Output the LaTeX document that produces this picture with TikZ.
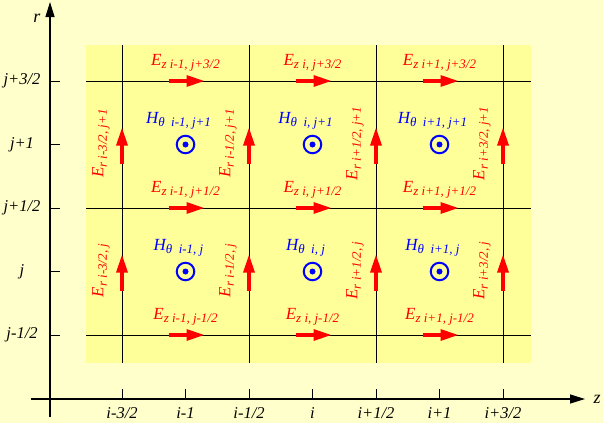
\documentclass[tikz,border=0pt]{standalone}
\usepackage{fontspec}
\setmainfont{Liberation Serif}
\usepackage{tikz}
\usetikzlibrary{arrows.meta,positioning}
\definecolor{bgyellow}{RGB}{255,255,204}
\definecolor{cellyellow}{RGB}{255,255,153}
\newcommand{\fld}[2]{{\fontsize{17}{17}\selectfont\itshape #1}\raisebox{-3.5pt}{\fontsize{13}{13}\selectfont\itshape #2}}
\newcommand{\idx}[1]{{\fontsize{16.5}{16.5}\selectfont\itshape #1}}
\tikzstyle{axisline} = [line width=1.3pt, -{Triangle[length=15pt,width=9pt]}]
\tikzstyle{gridline} = [line width=1pt]
\tikzstyle{efield} = [red, line width=3.2pt, -{Triangle[length=18pt,width=11pt]}]
\tikzstyle{hfield} = [circle, draw=blue, line width=2pt, inner sep=0pt, minimum size=17.5pt]
\tikzstyle{elabel} = [red, inner sep=0pt]
\tikzstyle{hlabel} = [blue, inner sep=0pt]

\begin{document}
\begin{tikzpicture}[x=1pt, y=-1pt]
        \fill[bgyellow] (0,0) rectangle (603,423);
        \useasboundingbox (0,0) rectangle (603,423);
        \fill[cellyellow] (86,45) rectangle (531,363);

        % grid lines
        \foreach \x in {122,249,376,503} \draw[gridline] (\x,45) -- (\x,363);
        \foreach \y in {81,208,335} \draw[gridline] (86,\y) -- (531,\y);

        % axes
        \draw[axisline] (50,417) -- (50,2);
        \draw[axisline] (31,399) -- (585,399);
        \node (rlab) at (37,18) {\idx{\fontsize{18}{18}\selectfont r}};
        \node (zlab) at (597,399) {\idx{\fontsize{18}{18}\selectfont z}};
        \foreach \y/\t in {81/{j+3/2}, 144.5/j+1, 208/{j+1/2}, 271.5/j, 335/{j-1/2}} {
            \draw[gridline] (50,\y) -- (60,\y);
            \node at (22,\y) {\idx{\t}};
        }
        \foreach \x/\t in {122/{i-3/2}, 185.5/i-1, 249/{i-1/2}, 312.5/i, 376/{i+1/2}, 439.5/i+1, 503/{i+3/2}} {
            \draw[gridline] (\x,399) -- (\x,389);
            \node at (\x,413) {\idx{\t}};
        }

        % E_z on the horizontal lines, H_theta in the cells
        \foreach \x/\i [count=\c] in {185.5/i-1, 312.5/i, 439.5/i+1} {
            \foreach \y/\j in {81/{j+3/2}, 208/{j+1/2}, 335/{j-1/2}} {
                \draw[efield] (\x-17,\y) -- (\x+19,\y);
                \node[elabel] at (\x,\y-18) {\fld{E}{z \i, \j}};
            }
            \foreach \y/\j [count=\r] in {144.5/j+1, 271.5/j} {
                \node (H\c\r) [hfield] at (\x,\y) {};
                \fill[blue] (H\c\r) circle (3pt);
                \node[hlabel, above of=H\c\r, node distance=23.5pt, xshift=-7pt] {\fld{H}{θ\ \ \i, \j}};
            }
        }

        % E_r on the vertical lines
        \foreach \x/\i in {122/{i-3/2}, 249/{i-1/2}, 376/{i+1/2}, 503/{i+3/2}} {
            \foreach \y/\j in {144.5/j+1, 271.5/j} {
                \draw[efield] (\x,\y+19) -- (\x,\y-17);
                \node[elabel, rotate=90] at (\x-21,\y-1) {\fld{E}{r \i, \j}};
            }
        }
    \end{tikzpicture}
\end{document}
